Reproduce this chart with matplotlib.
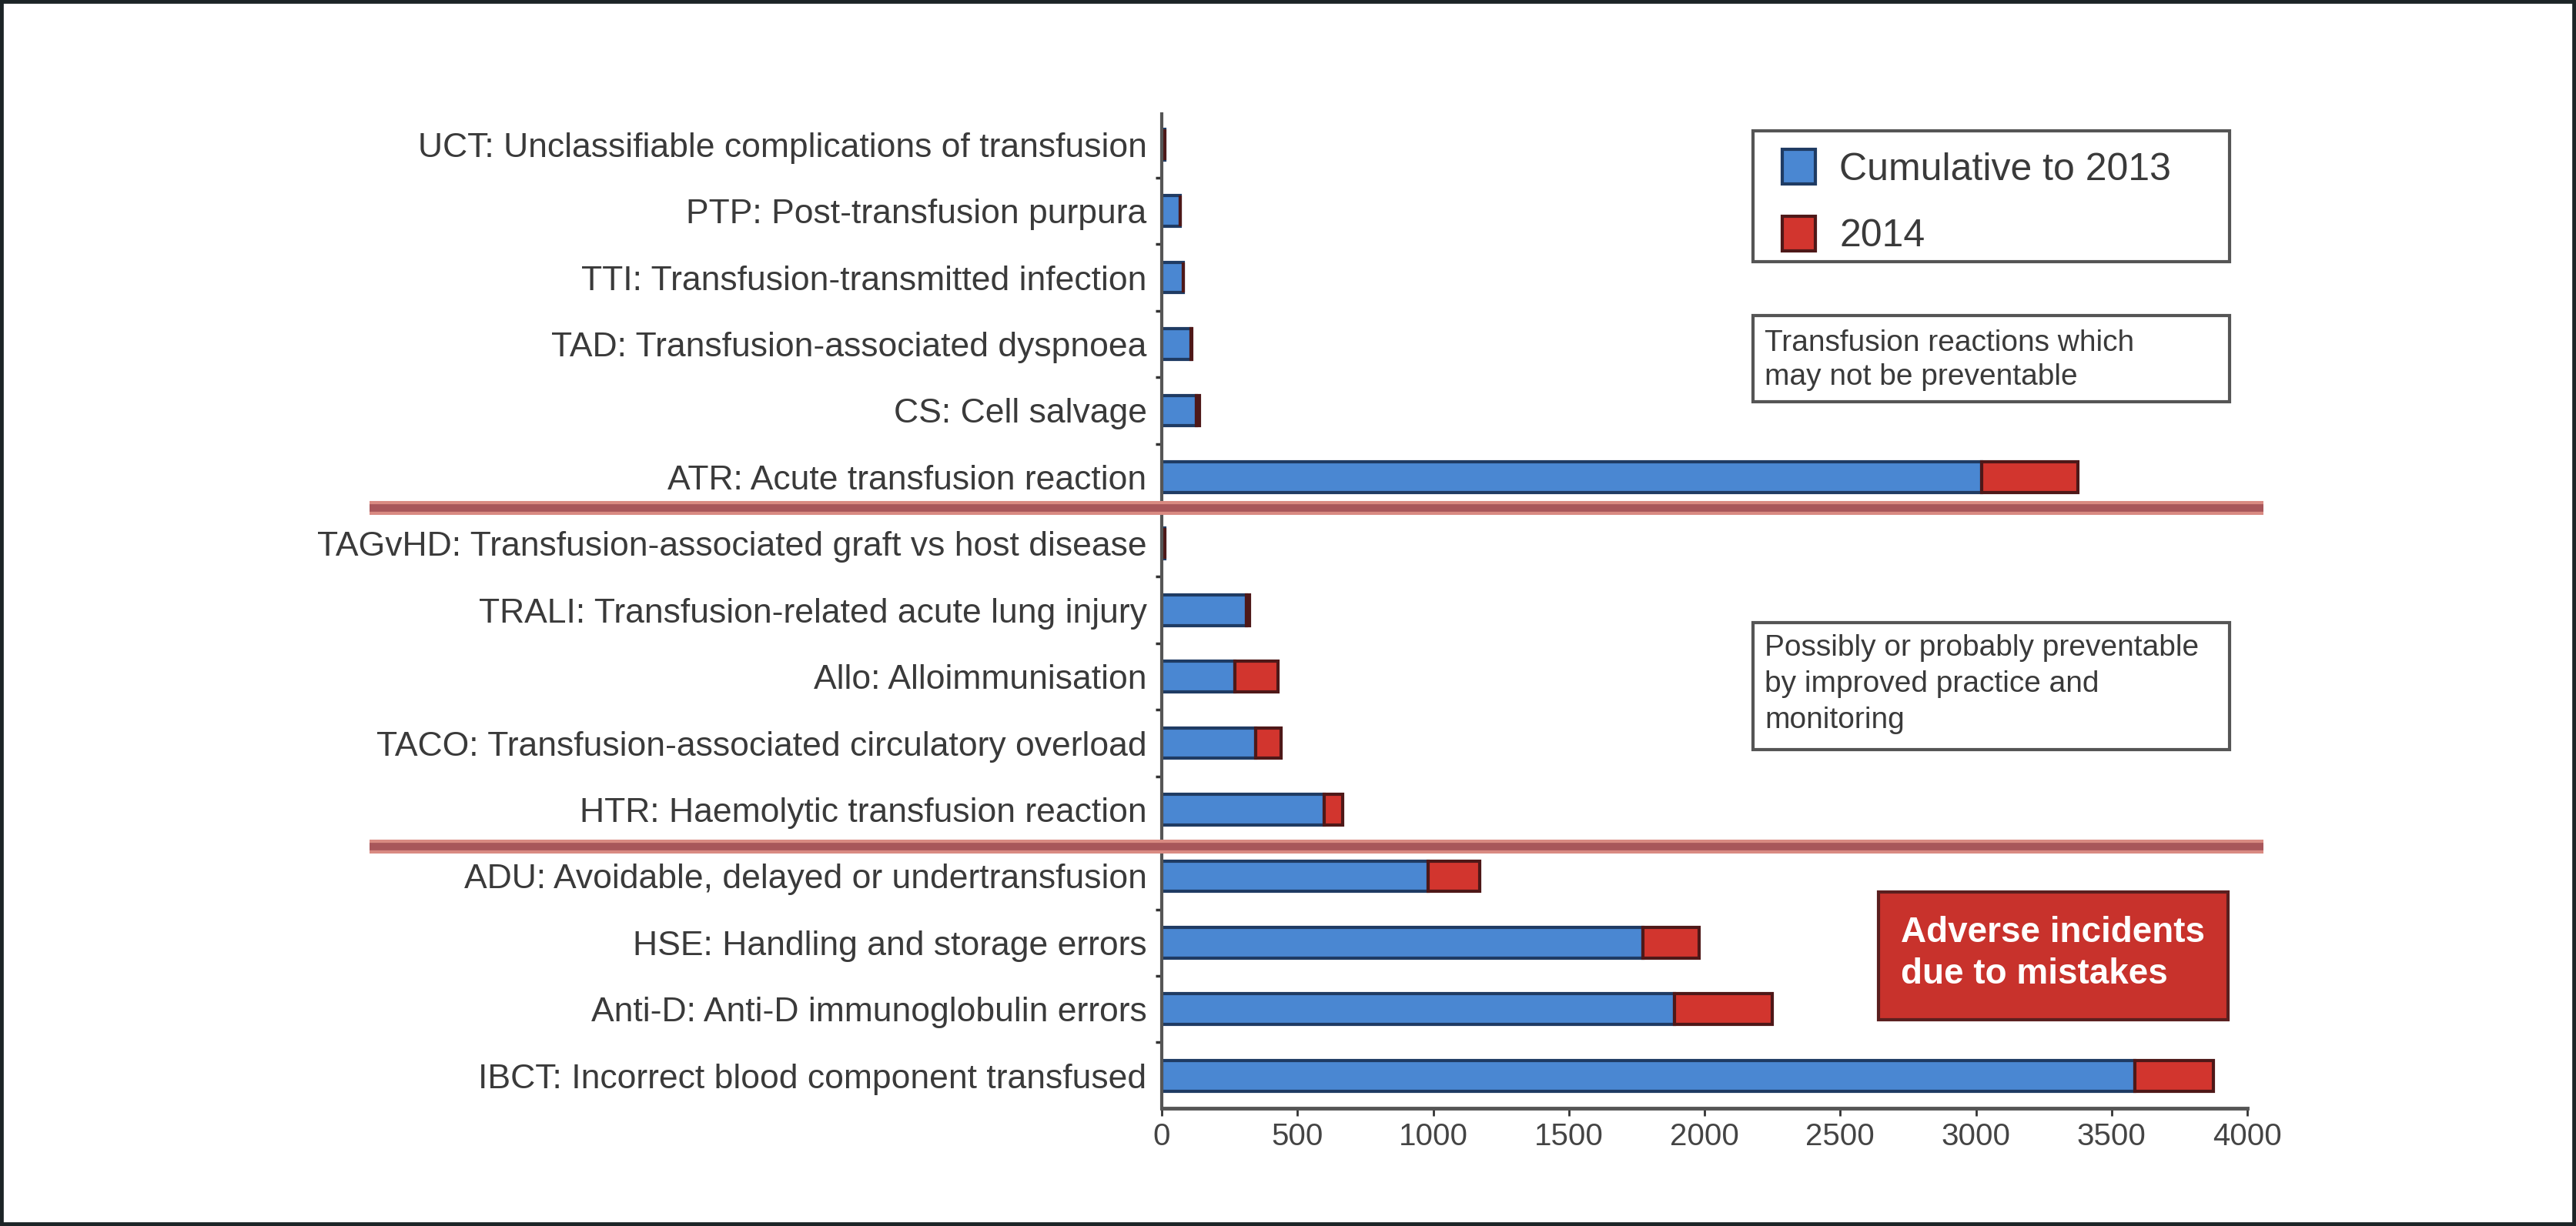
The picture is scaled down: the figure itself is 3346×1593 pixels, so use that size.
import matplotlib
matplotlib.use("Agg")
import matplotlib.pyplot as plt
from matplotlib.patches import Rectangle, Patch
import numpy as np

plt.rcParams['font.family'] = ['Liberation Sans', 'DejaVu Sans']

# categories, top to bottom
categories = [
    "UCT: Unclassifiable complications of transfusion",
    "PTP: Post-transfusion purpura",
    "TTI: Transfusion-transmitted infection",
    "TAD: Transfusion-associated dyspnoea",
    "CS: Cell salvage",
    "ATR: Acute transfusion reaction",
    "TAGvHD: Transfusion-associated graft vs host disease",
    "TRALI: Transfusion-related acute lung injury",
    "Allo: Alloimmunisation",
    "TACO: Transfusion-associated circulatory overload",
    "HTR: Haemolytic transfusion reaction",
    "ADU: Avoidable, delayed or undertransfusion",
    "HSE: Handling and storage errors",
    "Anti-D: Anti-D immunoglobulin errors",
    "IBCT: Incorrect blood component transfused",
]
cum_2013 = [10, 68, 80, 108, 128, 3022, 10, 312, 269, 345, 598, 982, 1772, 1888, 3586]
year_2014 = [2, 0, 0, 4, 10, 354, 0, 10, 158, 95, 69, 191, 208, 362, 289]
series_labels = ["Cumulative to 2013", "2014"]
xticks = [0, 500, 1000, 1500, 2000, 2500, 3000, 3500, 4000]
group_breaks = [5.47, 10.56]

box1_text = "Transfusion reactions which\nmay not be preventable"
box2_text = "Possibly or probably preventable\nby improved practice and\nmonitoring"
box3_text = "Adverse incidents\ndue to mistakes"

BLUE = "#4a87d2"
BLUE_EDGE = "#1f3b63"
RED = "#d2352e"
RED_EDGE = "#4e1818"

W, H = 3346, 1593
fig = plt.figure(figsize=(W / 100, H / 100), dpi=100)
fig.patch.set_facecolor("white")


def fx(px):
    return px / W


def fy(py):
    return 1 - py / H


ax = fig.add_axes([fx(1509), fy(1440), fx(2919) - fx(1509), fy(148) - fy(1440)])

y = np.arange(len(categories))
ax.barh(y, cum_2013, height=0.46, color=BLUE, edgecolor=BLUE_EDGE, linewidth=3)
ax.barh(y, year_2014, left=cum_2013, height=0.46, color=RED, edgecolor=RED_EDGE, linewidth=3)

ax.set_xlim(0, 4000)
ax.set_ylim(len(categories) - 0.51, -0.46)

ax.set_yticks(y)
ax.set_yticklabels(categories, fontsize=32, color="#3a3a3a")
ax.tick_params(axis="y", which="major", length=0, pad=14)
ax.set_yticks(np.arange(len(categories) - 1) + 0.5, minor=True)
ax.tick_params(axis="y", which="minor", length=6, width=2.5, color="#333333", direction="out")

ax.set_xticks(xticks)
ax.set_xticklabels([str(t) for t in xticks], fontsize=29, color="#444444")
ax.tick_params(axis="x", length=7, width=2, color="#333333", direction="out", pad=6)

for s in ["top", "right"]:
    ax.spines[s].set_visible(False)
ax.spines["left"].set_color("#555555")
ax.spines["left"].set_linewidth(3)
ax.spines["bottom"].set_color("#555555")
ax.spines["bottom"].set_linewidth(3.5)

# group separators
for yb in group_breaks:
    ax.axhline(yb, xmin=-0.73, xmax=1.015, color="#d98a82", lw=13, clip_on=False,
               solid_capstyle="butt", zorder=5)
    ax.axhline(yb, xmin=-0.73, xmax=1.015, color="#a8565a", lw=7, clip_on=False,
               solid_capstyle="butt", zorder=6)

# legend box
fig.add_artist(Rectangle((fx(2277), fy(340)), fx(2896) - fx(2277), fy(170) - fy(340),
                         transform=fig.transFigure, fill=False, edgecolor="#555555", lw=3))
handles = [Patch(facecolor=BLUE, edgecolor=BLUE_EDGE, linewidth=3),
           Patch(facecolor=RED, edgecolor=RED_EDGE, linewidth=3)]
fig.legend(handles, series_labels, loc="upper left", bbox_to_anchor=(fx(2315), fy(194)),
           frameon=False, fontsize=36, handlelength=0.86, handleheight=1.0,
           handletextpad=0.62, labelspacing=0.75, borderpad=0, borderaxespad=0,
           labelcolor="#3a3a3a")

# annotation boxes
fig.add_artist(Rectangle((fx(2277), fy(522)), fx(2896) - fx(2277), fy(410) - fy(522),
                         transform=fig.transFigure, fill=False, edgecolor="#555555", lw=3))
fig.text(fx(2292), fy(428), box1_text, fontsize=28, color="#3a3a3a", va="top", ha="left",
         linespacing=1.3)

fig.add_artist(Rectangle((fx(2277), fy(974)), fx(2896) - fx(2277), fy(809) - fy(974),
                         transform=fig.transFigure, fill=False, edgecolor="#555555", lw=3))
fig.text(fx(2292), fy(824), box2_text, fontsize=28, color="#3a3a3a", va="top", ha="left",
         linespacing=1.4)

fig.add_artist(Rectangle((fx(2440), fy(1325)), fx(2894) - fx(2440), fy(1159) - fy(1325),
                         transform=fig.transFigure, facecolor="#c8322c", edgecolor="#5a1f1f", lw=3))
fig.text(fx(2469), fy(1190), box3_text, fontsize=33, color="white", fontweight="bold",
         va="top", ha="left", linespacing=1.3)

# outer frame
fig.add_artist(Rectangle((0, 0), 1, 1, transform=fig.transFigure, fill=False,
                         edgecolor="#1c2426", lw=7))

fig.savefig("out.png", dpi=100)
